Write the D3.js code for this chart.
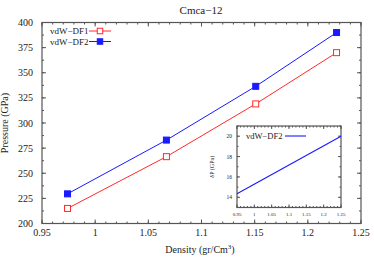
<!DOCTYPE html>
<html>
<head>
<meta charset="utf-8">
<script src="https://cdn.jsdelivr.net/npm/d3@7"></script>
<style>
  body { margin: 0; background: #fff; }
  text { font-family: "Liberation Serif", "DejaVu Serif", serif; fill: #222; }
</style>
</head>
<body>
<div id="chart"></div>
<script>
// Data
let density = [0.974, 1.067, 1.151, 1.227];
let pressureDF1 = [215, 266.5, 319, 370];
let pressureDF2 = [229.5, 283, 336.5, 390];
let xTicks = [0.95, 1, 1.05, 1.1, 1.15, 1.2, 1.25];
let yTicks = [200, 225, 250, 275, 300, 325, 350, 375, 400];

// inset: dP fit for vdW-DF2
let insetDensity = [0.95, 1.25];
let insetDeltaP = [14.35, 20];
let insetYTicks = [14, 16, 18, 20];

let width = 374, height = 262;
let pLeft = 42, pRight = 361, pTop = 22.5, pBottom = 223.5;

let svg = d3.select("#chart")
  .append("svg")
  .attr("width", width)
  .attr("height", height);

let x = d3.scaleLinear().domain([0.95, 1.25]).range([pLeft, pRight]);
let y = d3.scaleLinear().domain([200, 400]).range([pBottom, pTop]);

let frameColor = "#555";

// inward ticks on all four sides (gnuplot style)
function ticks(g, scale, vals, len, side) {
  vals.forEach(function(v) {
    let p = scale(v);
    let line = g.append("line").attr("stroke", frameColor).attr("stroke-width", 1);
    if (side == "bottom") line.attr("x1", p).attr("x2", p).attr("y1", pBottom).attr("y2", pBottom - len);
    if (side == "top") line.attr("x1", p).attr("x2", p).attr("y1", pTop).attr("y2", pTop + len);
    if (side == "left") line.attr("y1", p).attr("y2", p).attr("x1", pLeft).attr("x2", pLeft + len);
    if (side == "right") line.attr("y1", p).attr("y2", p).attr("x1", pRight).attr("x2", pRight - len);
  });
}

let axes = svg.append("g");
let xMinor = d3.range(0.95, 1.2501, 0.01);
let yMinor = d3.range(200, 400.1, 12.5);
["bottom", "top"].forEach(function(s) {
  ticks(axes, x, xMinor, 2, s);
  ticks(axes, x, xTicks, 4, s);
});
["left", "right"].forEach(function(s) {
  ticks(axes, y, yMinor, 2, s);
  ticks(axes, y, yTicks, 4, s);
});

axes.append("rect")
  .attr("x", pLeft).attr("y", pTop)
  .attr("width", pRight - pLeft).attr("height", pBottom - pTop)
  .attr("fill", "none").attr("stroke", frameColor).attr("stroke-width", 1.2);

// tick labels
svg.selectAll(".xlab")
  .data(xTicks)
  .enter()
  .append("text")
  .attr("x", d => x(d))
  .attr("y", pBottom + 12)
  .attr("text-anchor", "middle")
  .attr("font-size", 10)
  .text(d => d);

svg.selectAll(".ylab")
  .data(yTicks)
  .enter()
  .append("text")
  .attr("x", pLeft - 9)
  .attr("y", d => y(d) + 3.5)
  .attr("text-anchor", "end")
  .attr("font-size", 10)
  .text(d => d);

// title and axis titles
svg.append("text")
  .attr("x", 201).attr("y", 14)
  .attr("text-anchor", "middle")
  .attr("font-size", 11)
  .text("Cmca\u221212");

let xt = svg.append("text")
  .attr("x", 200).attr("y", 253)
  .attr("text-anchor", "middle")
  .attr("font-size", 10);
xt.append("tspan").text("Density (gr/Cm");
xt.append("tspan").attr("font-size", 7).attr("dy", -4).text("3");
xt.append("tspan").attr("dy", 4).text(")");

svg.append("text")
  .attr("transform", "translate(8," + ((pTop + pBottom) / 2) + ") rotate(-90)")
  .attr("text-anchor", "middle")
  .attr("font-size", 10)
  .text("Pressure (GPa)");

// series
let line = d3.line().x(d => x(d[0])).y(d => y(d[1]));

let series = [
  { name: "vdW\u2212DF1", color: "#ff2a2a", values: pressureDF1, filled: false },
  { name: "vdW\u2212DF2", color: "#1a1aff", values: pressureDF2, filled: true }
];

series.forEach(function(s, i) {
  let pts = density.map((d, j) => [d, s.values[j]]);
  svg.append("path")
    .datum(pts)
    .attr("d", line)
    .attr("fill", "none")
    .attr("stroke", s.color)
    .attr("stroke-width", 1);

  svg.selectAll(".m" + i)
    .data(pts)
    .enter()
    .append("rect")
    .attr("x", d => x(d[0]) - 3)
    .attr("y", d => y(d[1]) - 3)
    .attr("width", 6).attr("height", 6)
    .attr("fill", s.filled ? s.color : "#fff")
    .attr("stroke", s.color)
    .attr("stroke-width", 1);

  // legend
  let ly = 31 + i * 10.5;
  svg.append("text")
    .attr("x", 50).attr("y", ly + 3)
    .attr("font-size", 9)
    .text(s.name);
  svg.append("line")
    .attr("x1", 89).attr("x2", 111)
    .attr("y1", ly).attr("y2", ly)
    .attr("stroke", s.color).attr("stroke-width", 1);
  svg.append("rect")
    .attr("x", 100 - 2.75).attr("y", ly - 2.75)
    .attr("width", 5.5).attr("height", 5.5)
    .attr("fill", s.filled ? s.color : "#fff")
    .attr("stroke", s.color)
    .attr("stroke-width", 1);
});

// inset
let iLeft = 237, iRight = 341, iTop = 126, iBottom = 207.5;
let ix = d3.scaleLinear().domain([0.95, 1.25]).range([iLeft, iRight]);
let iy = d3.scaleLinear().domain([13, 21]).range([iBottom, iTop]);

let inset = svg.append("g");
inset.append("rect")
  .attr("x", iLeft).attr("y", iTop)
  .attr("width", iRight - iLeft).attr("height", iBottom - iTop)
  .attr("fill", "#fff");

function iticks(vals, scale, len, horizontal) {
  vals.forEach(function(v) {
    let p = scale(v);
    if (horizontal) {
      inset.append("line").attr("x1", p).attr("x2", p).attr("y1", iBottom).attr("y2", iBottom - len).attr("stroke", frameColor);
      inset.append("line").attr("x1", p).attr("x2", p).attr("y1", iTop).attr("y2", iTop + len).attr("stroke", frameColor);
    } else {
      inset.append("line").attr("y1", p).attr("y2", p).attr("x1", iLeft).attr("x2", iLeft + len).attr("stroke", frameColor);
      inset.append("line").attr("y1", p).attr("y2", p).attr("x1", iRight).attr("x2", iRight - len).attr("stroke", frameColor);
    }
  });
}
iticks(d3.range(0.95, 1.2501, 0.01), ix, 1.5, true);
iticks(xTicks, ix, 3, true);
iticks(d3.range(13, 21.01, 1), iy, 1.5, false);
iticks(insetYTicks, iy, 3, false);

inset.append("rect")
  .attr("x", iLeft).attr("y", iTop)
  .attr("width", iRight - iLeft).attr("height", iBottom - iTop)
  .attr("fill", "none").attr("stroke", frameColor).attr("stroke-width", 1.2);

inset.selectAll(".ixl")
  .data(xTicks)
  .enter()
  .append("text")
  .attr("x", d => ix(d))
  .attr("y", iBottom + 8)
  .attr("text-anchor", "middle")
  .attr("font-size", 5)
  .text(d => d);

inset.selectAll(".iyl")
  .data(insetYTicks)
  .enter()
  .append("text")
  .attr("x", iLeft - 5)
  .attr("y", d => iy(d) + 2)
  .attr("text-anchor", "end")
  .attr("font-size", 5.5)
  .text(d => d);

inset.append("text")
  .attr("transform", "translate(214," + ((iTop + iBottom) / 2) + ") rotate(-90)")
  .attr("text-anchor", "middle")
  .attr("font-size", 6)
  .text("\u03b4P (GPa)");

inset.append("path")
  .datum(insetDensity.map((d, j) => [d, insetDeltaP[j]]))
  .attr("d", d3.line().x(d => ix(d[0])).y(d => iy(d[1])))
  .attr("fill", "none")
  .attr("stroke", "#1a1aff")
  .attr("stroke-width", 1.1);

inset.append("text")
  .attr("x", 246).attr("y", 139)
  .attr("font-size", 8.5)
  .text("vdW\u2212DF2");
inset.append("line")
  .attr("x1", 285).attr("x2", 306)
  .attr("y1", 136).attr("y2", 136)
  .attr("stroke", "#1a1aff").attr("stroke-width", 1.1);
</script>
</body>
</html>
